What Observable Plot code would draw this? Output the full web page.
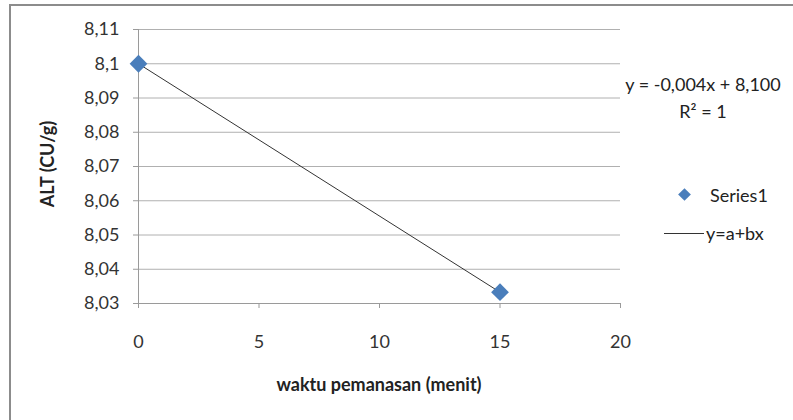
<!DOCTYPE html>
<html>
<head>
<meta charset="utf-8">
<script src="https://cdn.jsdelivr.net/npm/d3@7"></script>
<script src="https://cdn.jsdelivr.net/npm/@observablehq/plot@0.6"></script>
<style>
  html, body { margin: 0; padding: 0; background: #fff; }
  #wrap { position: relative; width: 793px; height: 420px; overflow: hidden; font-family: Lato, "Open Sans", sans-serif; color: #222; }
  #frame { position: absolute; left: 9px; top: 4px; width: 820px; height: 440px; border: 2px solid #8c8c8c; box-sizing: border-box; }
  #chart { position: absolute; left: 0; top: 0; }
  .lbl { position: absolute; font-size: 18px; white-space: nowrap; line-height: 1; }
  .bold { font-weight: bold; }
</style>
</head>
<body>
<div id="wrap">
  <div id="frame"></div>
  <div id="chart"></div>
  <div class="lbl bold" id="xlab" style="left:379px; top:375px; transform:translateX(-50%);">waktu pemanasan (menit)</div>
  <div class="lbl bold" id="ylab" style="left:47px; top:164px; transform:translate(-50%,-50%) rotate(-90deg);">ALT (CU/g)</div>
  <div class="lbl" id="eq" style="left:703px; top:71px; transform:translateX(-50%); text-align:center; line-height:27px;"></div>
  <div class="lbl" style="left:710px; top:186px;" id="leg1"></div>
  <div id="legdia" style="position:absolute; left:680px; top:190px; width:9px; height:9px; background:#4a7ebb; transform:rotate(45deg);"></div>
  <div style="position:absolute; left:664px; top:233px; width:40px; height:1px; background:#333;"></div>
  <div class="lbl" style="left:706px; top:224px;" id="leg2"></div>
</div>
<script>
// Data
const waktu = [0, 15];
const alt = [8.1, 8.0333];
const xTicks = [0, 5, 10, 15, 20];
const yTicks = [8.03, 8.04, 8.05, 8.06, 8.07, 8.08, 8.09, 8.1, 8.11];
const seriesName = "Series1";
const trendName = "y=a+bx";
const equation = "y = -0,004x + 8,100";
const r2 = "R² = 1";

const data = waktu.map((x, i) => ({x, y: alt[i]}));
const fmt = d => String(+d.toFixed(2)).replace(".", ",");

const plot = Plot.plot({
  width: 793,
  height: 420,
  marginLeft: 138,
  marginRight: 173,
  marginTop: 29,
  marginBottom: 117,
  style: { fontFamily: "Lato, 'Open Sans', sans-serif", fontSize: "18px", color: "#333", background: "transparent" },
  x: { domain: [0, 20] },
  y: { domain: [8.03, 8.11] },
  marks: [
    Plot.gridY(yTicks, { stroke: "#b0b0b0", strokeOpacity: 1, strokeWidth: 1 }),
    Plot.ruleX([0], { stroke: "#9a9a9a", strokeWidth: 1 }),
    Plot.ruleY([8.03], { stroke: "#9a9a9a", strokeWidth: 1 }),
    Plot.axisY(yTicks, { tickSize: 5, tickPadding: 14, tickFormat: fmt, label: null, stroke: "#9a9a9a", fill: "#333" }),
    Plot.axisX(xTicks, { tickSize: 5, tickPadding: 27, tickFormat: d => String(d), label: null, stroke: "#9a9a9a", fill: "#333" }),
    Plot.linearRegressionY(data, { x: "x", y: "y", ci: 0, stroke: "#333", strokeWidth: 1 }),
    Plot.dot(data, { x: "x", y: "y", symbol: "diamond2", r: 8, fill: "#4a7ebb", stroke: "none" })
  ]
});
document.getElementById("chart").appendChild(plot);
document.getElementById("eq").innerHTML = equation + "<br>" + r2;
document.getElementById("leg1").textContent = seriesName;
document.getElementById("leg2").textContent = trendName;
</script>
</body>
</html>
